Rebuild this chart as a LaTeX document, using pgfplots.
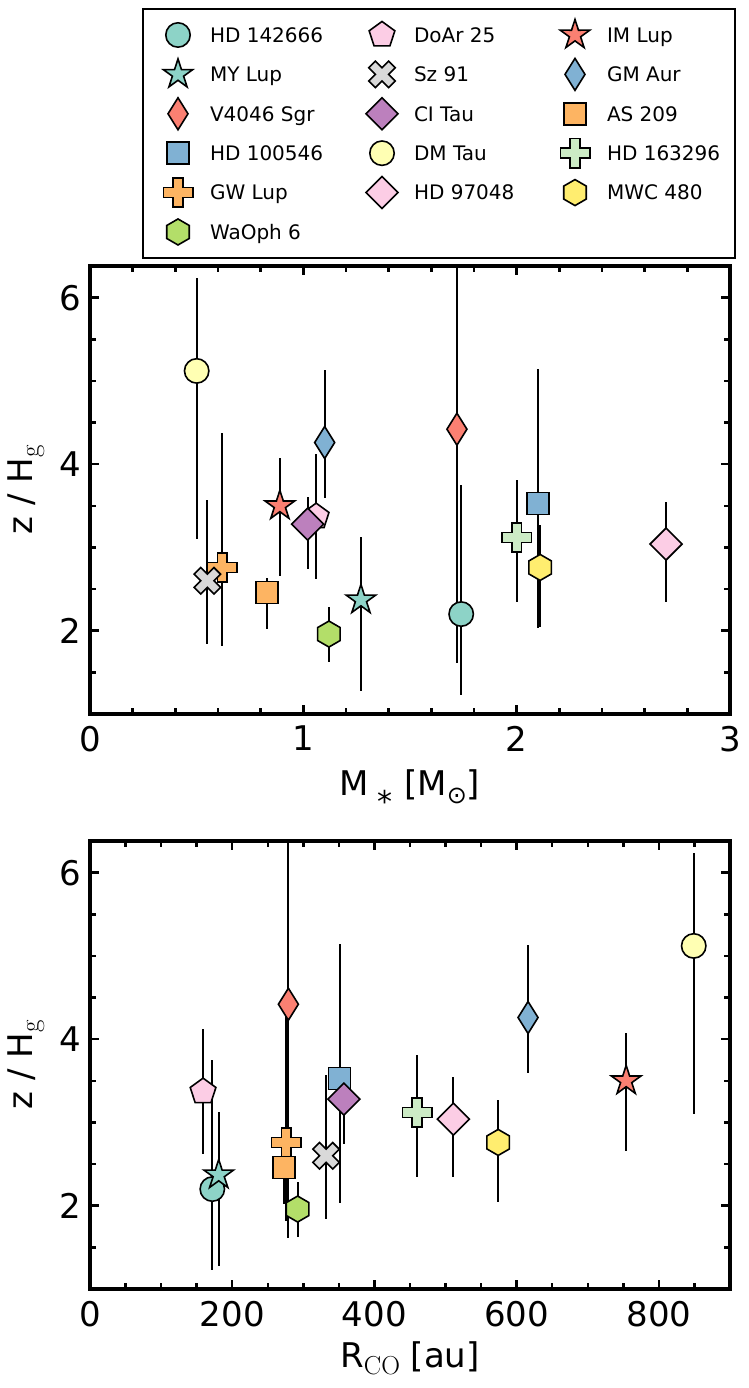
\documentclass[border=0pt]{standalone}
\usepackage{fontspec}
\setmainfont{DejaVu Sans}
\usepackage{pgfplots}
\pgfplotsset{compat=1.18}

\definecolor{cA}{HTML}{8DD3C7}
\definecolor{cB}{HTML}{FFFFB3}
\definecolor{cD}{HTML}{FB8072}
\definecolor{cE}{HTML}{80B1D3}
\definecolor{cF}{HTML}{FDB462}
\definecolor{cG}{HTML}{B3DE69}
\definecolor{cH}{HTML}{FCCDE5}
\definecolor{cI}{HTML}{D9D9D9}
\definecolor{cJ}{HTML}{BC80BD}
\definecolor{cK}{HTML}{CCEBC5}
\definecolor{cL}{HTML}{FFED6F}

\pgfdeclareplotmark{mcirc}{\pgfpathcircle{\pgfpointorigin}{12.2pt}\pgfusepathqfillstroke}
\pgfdeclareplotmark{msq}{\pgfpathrectangle{\pgfpoint{-11pt}{-11pt}}{\pgfpoint{22pt}{22pt}}\pgfusepathqfillstroke}
\pgfdeclareplotmark{mstar}{%
 \pgfpathmoveto{\pgfpointpolar{90}{15.5pt}}%
 \pgfpathlineto{\pgfpointpolar{126}{5.9pt}}%
 \pgfpathlineto{\pgfpointpolar{162}{15.5pt}}%
 \pgfpathlineto{\pgfpointpolar{198}{5.9pt}}%
 \pgfpathlineto{\pgfpointpolar{234}{15.5pt}}%
 \pgfpathlineto{\pgfpointpolar{270}{5.9pt}}%
 \pgfpathlineto{\pgfpointpolar{306}{15.5pt}}%
 \pgfpathlineto{\pgfpointpolar{342}{5.9pt}}%
 \pgfpathlineto{\pgfpointpolar{18}{15.5pt}}%
 \pgfpathlineto{\pgfpointpolar{54}{5.9pt}}%
 \pgfpathclose\pgfusepathqfillstroke}
\pgfdeclareplotmark{mdiam}{%
 \pgfpathmoveto{\pgfpoint{0pt}{16pt}}\pgfpathlineto{\pgfpoint{-16pt}{0pt}}%
 \pgfpathlineto{\pgfpoint{0pt}{-16pt}}\pgfpathlineto{\pgfpoint{16pt}{0pt}}%
 \pgfpathclose\pgfusepathqfillstroke}
\pgfdeclareplotmark{mthin}{%
 \pgfpathmoveto{\pgfpoint{0pt}{16pt}}\pgfpathlineto{\pgfpoint{-10pt}{0pt}}%
 \pgfpathlineto{\pgfpoint{0pt}{-16pt}}\pgfpathlineto{\pgfpoint{10pt}{0pt}}%
 \pgfpathclose\pgfusepathqfillstroke}
\pgfdeclareplotmark{mhex}{%
 \pgfpathmoveto{\pgfpointpolar{90}{13pt}}%
 \pgfpathlineto{\pgfpointpolar{150}{13pt}}%
 \pgfpathlineto{\pgfpointpolar{210}{13pt}}%
 \pgfpathlineto{\pgfpointpolar{270}{13pt}}%
 \pgfpathlineto{\pgfpointpolar{330}{13pt}}%
 \pgfpathlineto{\pgfpointpolar{30}{13pt}}%
 \pgfpathclose\pgfusepathqfillstroke}
\pgfdeclareplotmark{mpent}{%
 \pgfpathmoveto{\pgfpointpolar{90}{13.5pt}}%
 \pgfpathlineto{\pgfpointpolar{162}{13.5pt}}%
 \pgfpathlineto{\pgfpointpolar{234}{13.5pt}}%
 \pgfpathlineto{\pgfpointpolar{306}{13.5pt}}%
 \pgfpathlineto{\pgfpointpolar{18}{13.5pt}}%
 \pgfpathclose\pgfusepathqfillstroke}
\def\plusshape#1#2{%
 \pgfpathmoveto{\pgfpoint{#2}{#1}}\pgfpathlineto{\pgfpoint{-#2}{#1}}%
 \pgfpathlineto{\pgfpoint{-#2}{#2}}\pgfpathlineto{\pgfpoint{-#1}{#2}}%
 \pgfpathlineto{\pgfpoint{-#1}{-#2}}\pgfpathlineto{\pgfpoint{-#2}{-#2}}%
 \pgfpathlineto{\pgfpoint{-#2}{-#1}}\pgfpathlineto{\pgfpoint{#2}{-#1}}%
 \pgfpathlineto{\pgfpoint{#2}{-#2}}\pgfpathlineto{\pgfpoint{#1}{-#2}}%
 \pgfpathlineto{\pgfpoint{#1}{#2}}\pgfpathlineto{\pgfpoint{#2}{#2}}%
 \pgfpathclose\pgfusepathqfillstroke}
\pgfdeclareplotmark{mplus}{\plusshape{14.7pt}{4.9pt}}
\pgfdeclareplotmark{mx}{\pgftransformrotate{45}\plusshape{14pt}{4.67pt}}

\newcommand{\LA}[1]{\makebox[168pt][l]{\hspace{14pt}#1}}
\newcommand{\LB}[1]{\makebox[157pt][l]{\hspace{14pt}#1}}
\newcommand{\LC}[1]{\makebox[125pt][l]{\hspace{14pt}#1}}
\newcommand{\LI}[2]{\addlegendimage{mark=#1, mark options={fill=#2, draw=black, line width=1.6pt, solid}}}
\newcommand{\serifsub}[3]{\raisebox{#1}{\fontfamily{lmr}\fontsize{#2}{#2}\selectfont #3}}

\pgfplotsset{
  pt/.style 2 args={forget plot, only marks, mark=#1,
    mark options={fill=#2, draw=black, line width=1.6pt, solid},
    error bars/.cd, y dir=both, y explicit, error mark=none,
    error bar style={line width=2pt, black, solid}},
  panel/.style={
    scale only axis, width=640pt, height=448pt, anchor=south west,
    ymin=1, ymax=6.38, ytick={2,4,6}, minor ytick={1.5,2.5,3,3.5,4.5,5,5.5},
    tick align=inside, major tick length=9pt, minor tick length=6pt,
    tick style={line width=2.5pt, black},
    axis line style={line width=4pt},
    xticklabel={\pgfmathprintnumber[assume math mode=true]{\tick}},
    yticklabel={\pgfmathprintnumber[assume math mode=true]{\tick}},
    every tick label/.append style={font=\fontsize{34}{40}\selectfont, inner sep=0pt},
    xticklabel style={yshift=-12pt},
    yticklabel style={xshift=-8.5pt},
    label style={font=\fontsize{34}{40}\selectfont},
    ylabel={z / H\serifsub{-6pt}{27}{g}},
    ylabel style={at={(axis description cs:-0.0891,0.5)}, anchor=base},
  },
}

\begin{document}
\begin{tikzpicture}
\useasboundingbox (0,0) rectangle (748pt,1388pt);
\begin{axis}[panel, at={(90pt,674pt)},
  xmin=0, xmax=3, xtick={0,1,2,3},
  minor xtick={0.2,0.4,0.6,0.8,1.2,1.4,1.6,1.8,2.2,2.4,2.6,2.8},
  xlabel={M\hspace{8pt}\raisebox{-17pt}{\fontsize{30}{30}\selectfont *}\hspace{12pt}[M\raisebox{-8pt}{\fontsize{24}{24}\selectfont ⊙}]},
  xlabel style={at={(axis description cs:0.5,-0.181)}, anchor=base},
  legend columns=3,
  legend style={at={(axis description cs:0.08125,1.5759)}, anchor=north west,
    draw=black, line width=2pt, fill=white, inner xsep=17pt, inner ysep=6.3pt,
    font=\fontsize{20}{24}\selectfont, row sep=0pt, column sep=0pt,
    cells={anchor=center},
    nodes={draw=none, fill=none, inner sep=0pt, outer sep=0pt, text height=14.6pt, text depth=0pt}},
  legend image code/.code={\path[draw=none, fill=none] (-18pt,-19.7pt) rectangle (18pt,19.7pt);
    \draw[#1] plot coordinates {(0pt,0pt)};},
]
\addplot[pt={mcirc}{cA}] coordinates {(1.74,2.20) += (0,1.55) -= (0,0.97)};
\addplot[pt={mstar}{cA}] coordinates {(1.27,2.37) += (0,0.76) -= (0,1.09)};
\addplot[pt={mthin}{cD}] coordinates {(1.72,4.42) += (0,2.80) -= (0,2.81)};
\addplot[pt={msq}{cE}] coordinates {(2.10,3.53) += (0,1.61) -= (0,1.50)};
\addplot[pt={mplus}{cF}] coordinates {(0.62,2.76) += (0,1.61) -= (0,0.94)};
\addplot[pt={mhex}{cG}] coordinates {(1.12,1.96) += (0,0.32) -= (0,0.34)};
\addplot[pt={mpent}{cH}] coordinates {(1.06,3.37) += (0,0.75) -= (0,0.75)};
\addplot[pt={mx}{cI}] coordinates {(0.55,2.60) += (0,0.97) -= (0,0.76)};
\addplot[pt={mdiam}{cJ}] coordinates {(1.02,3.28) += (0,0.33) -= (0,0.54)};
\addplot[pt={mcirc}{cB}] coordinates {(0.50,5.12) += (0,1.12) -= (0,2.02)};
\addplot[pt={mdiam}{cH}] coordinates {(2.70,3.04) += (0,0.50) -= (0,0.69)};
\addplot[pt={mstar}{cD}] coordinates {(0.89,3.50) += (0,0.58) -= (0,0.84)};
\addplot[pt={mthin}{cE}] coordinates {(1.10,4.26) += (0,0.87) -= (0,0.67)};
\addplot[pt={msq}{cF}] coordinates {(0.83,2.46) += (0,0.17) -= (0,0.44)};
\addplot[pt={mplus}{cK}] coordinates {(2.00,3.12) += (0,0.69) -= (0,0.77)};
\addplot[pt={mhex}{cL}] coordinates {(2.11,2.76) += (0,0.51) -= (0,0.71)};
% legend, row by row
\LI{mcirc}{cA} \addlegendentry{\LA{HD 142666}}
\LI{mpent}{cH} \addlegendentry{\LB{DoAr 25}}
\LI{mstar}{cD} \addlegendentry{\LC{IM Lup}}
\LI{mstar}{cA} \addlegendentry{\LA{MY Lup}}
\LI{mx}{cI} \addlegendentry{\LB{Sz 91}}
\LI{mthin}{cE} \addlegendentry{\LC{GM Aur}}
\LI{mthin}{cD} \addlegendentry{\LA{V4046 Sgr}}
\LI{mdiam}{cJ} \addlegendentry{\LB{CI Tau}}
\LI{msq}{cF} \addlegendentry{\LC{AS 209}}
\LI{msq}{cE} \addlegendentry{\LA{HD 100546}}
\LI{mcirc}{cB} \addlegendentry{\LB{DM Tau}}
\LI{mplus}{cK} \addlegendentry{\LC{HD 163296}}
\LI{mplus}{cF} \addlegendentry{\LA{GW Lup}}
\LI{mdiam}{cH} \addlegendentry{\LB{HD 97048}}
\LI{mhex}{cL} \addlegendentry{\LC{MWC 480}}
\LI{mhex}{cG} \addlegendentry{\LA{WaOph 6}}
\end{axis}

\begin{axis}[panel, at={(90pt,99pt)},
  xmin=0, xmax=900, xtick={0,200,400,600,800},
  minor xtick={50,100,150,250,300,350,450,500,550,650,700,750,850},
  xlabel={R\serifsub{-7pt}{26}{CO} [au]},
  xlabel style={at={(axis description cs:0.5,-0.176)}, anchor=base},
]
\addplot[pt={mcirc}{cA}] coordinates {(172,2.20) += (0,1.55) -= (0,0.97)};
\addplot[pt={mstar}{cA}] coordinates {(181,2.37) += (0,0.76) -= (0,1.09)};
\addplot[pt={mthin}{cD}] coordinates {(279,4.42) += (0,2.80) -= (0,2.81)};
\addplot[pt={msq}{cE}] coordinates {(351,3.53) += (0,1.61) -= (0,1.50)};
\addplot[pt={mplus}{cF}] coordinates {(276,2.76) += (0,1.61) -= (0,0.94)};
\addplot[pt={mhex}{cG}] coordinates {(292,1.96) += (0,0.32) -= (0,0.34)};
\addplot[pt={mpent}{cH}] coordinates {(159,3.37) += (0,0.75) -= (0,0.75)};
\addplot[pt={mx}{cI}] coordinates {(332,2.60) += (0,0.97) -= (0,0.76)};
\addplot[pt={mdiam}{cJ}] coordinates {(357,3.28) += (0,0.33) -= (0,0.54)};
\addplot[pt={mcirc}{cB}] coordinates {(849,5.12) += (0,1.12) -= (0,2.02)};
\addplot[pt={mdiam}{cH}] coordinates {(511,3.04) += (0,0.50) -= (0,0.69)};
\addplot[pt={mstar}{cD}] coordinates {(754,3.50) += (0,0.58) -= (0,0.84)};
\addplot[pt={mthin}{cE}] coordinates {(616,4.26) += (0,0.87) -= (0,0.67)};
\addplot[pt={msq}{cF}] coordinates {(273,2.46) += (0,0.17) -= (0,0.44)};
\addplot[pt={mplus}{cK}] coordinates {(460,3.12) += (0,0.69) -= (0,0.77)};
\addplot[pt={mhex}{cL}] coordinates {(574,2.76) += (0,0.51) -= (0,0.71)};
\end{axis}
\end{tikzpicture}
\end{document}
